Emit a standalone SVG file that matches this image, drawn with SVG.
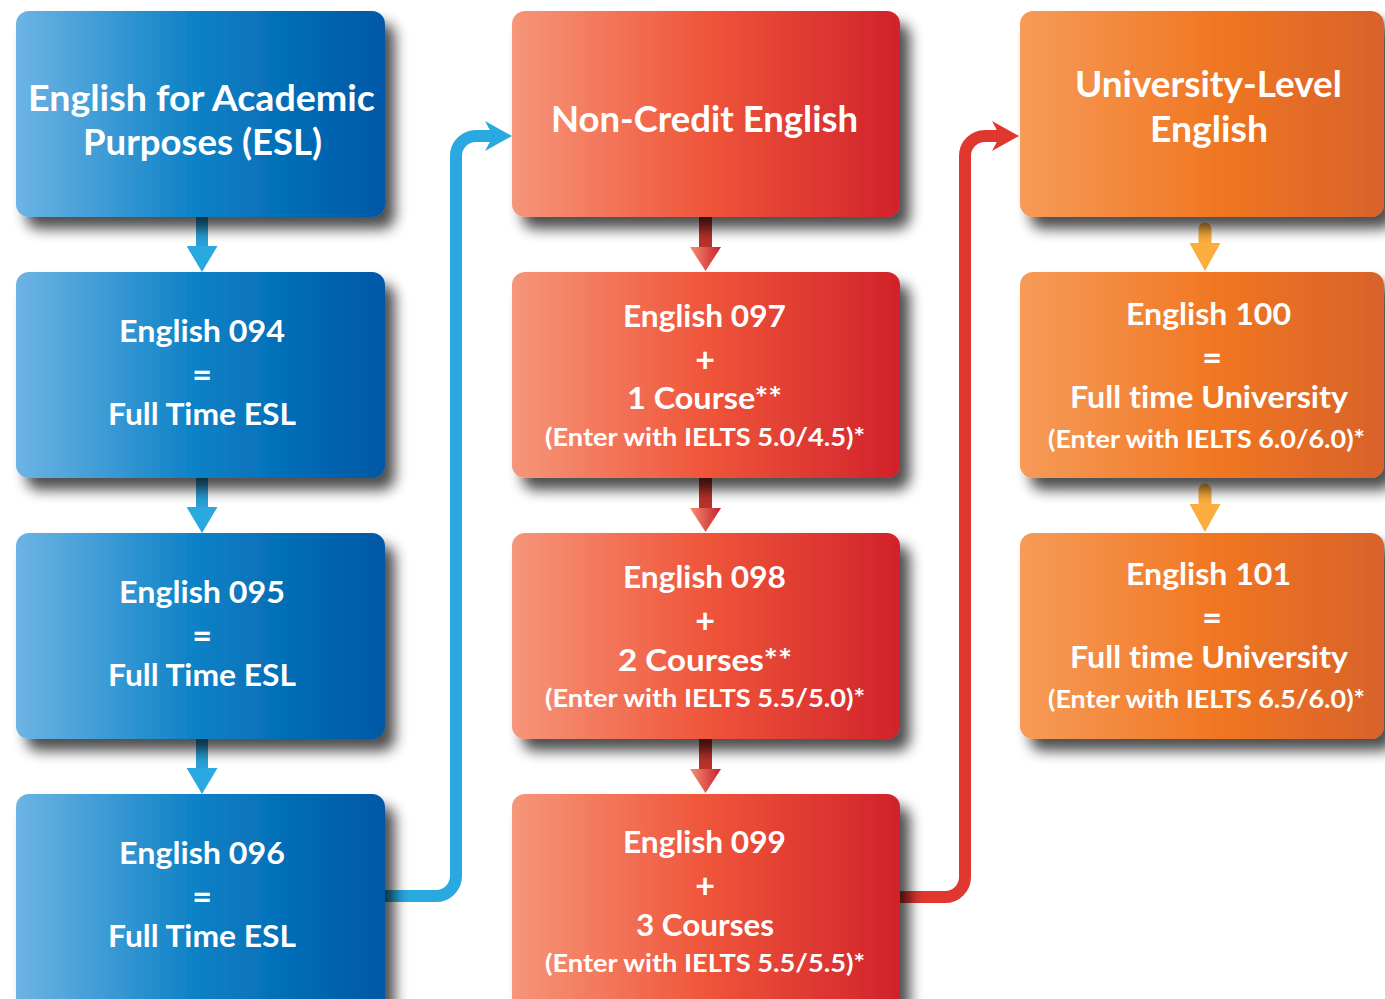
<svg xmlns="http://www.w3.org/2000/svg" width="1385" height="999" viewBox="0 0 1385 999">
<style>
.t{fill:#fff;font-family:Lato,"Open Sans","Liberation Sans",sans-serif;font-weight:700;text-anchor:middle;font-variant-ligatures:none}
.h{font-size:37px}
.m{font-size:31px}
.q{font-size:34px}
.s{font-size:25px}
.box{filter:url(#sh)}
.bl{fill:url(#gb)}
.rd{fill:url(#gr)}
.or{fill:url(#go)}
.cb{fill:none;stroke:#29a9e0;stroke-width:12}
.cr{fill:none;stroke:#e0372f;stroke-width:12}
.ab{fill:none;stroke:#2a9fd6;stroke-width:12;marker-end:url(#mb)}
.ar{fill:none;stroke:#b8312b;stroke-width:13;marker-end:url(#mr)}
.ao{fill:none;stroke:#fbae3e;stroke-width:13;stroke-linecap:round;marker-end:url(#mo)}
</style>
<defs>
<linearGradient id="gb" x1="0" y1="0" x2="1" y2="0">
<stop offset="0" stop-color="#6db4e4"/><stop offset="0.5" stop-color="#0a80c5"/><stop offset="1" stop-color="#0058a6"/>
</linearGradient>
<linearGradient id="gr" x1="0" y1="0" x2="1" y2="0">
<stop offset="0" stop-color="#f6967a"/><stop offset="0.5" stop-color="#ef553a"/><stop offset="1" stop-color="#d1222b"/>
</linearGradient>
<linearGradient id="go" x1="0" y1="0" x2="1" y2="0">
<stop offset="0" stop-color="#f69b58"/><stop offset="0.55" stop-color="#f07622"/><stop offset="1" stop-color="#d8622a"/>
</linearGradient>
<linearGradient id="gra" x1="0" y1="0" x2="0" y2="1">
<stop offset="0" stop-color="#c9202a"/><stop offset="1" stop-color="#f48e73"/>
</linearGradient>
<filter id="sh" x="-10%" y="-10%" width="130%" height="140%">
<feGaussianBlur in="SourceAlpha" stdDeviation="7"/>
<feOffset dx="10" dy="12"/>
<feComponentTransfer><feFuncA type="linear" slope="0.7"/></feComponentTransfer>
<feMerge><feMergeNode/><feMergeNode in="SourceGraphic"/></feMerge>
</filter>
<marker id="mcb" markerUnits="userSpaceOnUse" markerWidth="30" markerHeight="32" viewBox="0 0 30 32" refX="9" refY="16" orient="auto">
<path d="M0,1 L27,16 L0,31 L8,16 Z" fill="#29a9e0"/>
</marker>
<marker id="mcr" markerUnits="userSpaceOnUse" markerWidth="30" markerHeight="32" viewBox="0 0 30 32" refX="9" refY="16" orient="auto">
<path d="M0,1 L27,16 L0,31 L8,16 Z" fill="#e0372f"/>
</marker>
<marker id="mb" markerUnits="userSpaceOnUse" markerWidth="27" markerHeight="31" viewBox="0 0 27 31" refX="6" refY="15.5" orient="auto">
<path d="M0,0 L26,15.5 L0,31 Z" fill="#29a9e0"/>
</marker>
<marker id="mr" markerUnits="userSpaceOnUse" markerWidth="25" markerHeight="31" viewBox="0 0 25 31" refX="5" refY="15.5" orient="auto">
<path d="M0,0 L24,15.5 L0,31 Z" fill="url(#gra)"/>
</marker>
<marker id="mo" markerUnits="userSpaceOnUse" markerWidth="29" markerHeight="31" viewBox="0 0 29 31" refX="7" refY="15.5" orient="auto">
<path d="M0,0 L28,15.5 L0,31 Z" fill="#fbae3e"/>
</marker>
</defs>
<rect width="1385" height="999" fill="#fff"/>

<g id="connectors">
<path class="cb" d="M385,896 H436 A20,20 0 0 0 456,876 V156 A20,20 0 0 1 476,136 H494" marker-end="url(#mcb)"/>
<path class="cr" d="M900,897 H945 A20,20 0 0 0 965,877 V156 A20,20 0 0 1 985,136 H1001" marker-end="url(#mcr)"/>
<path class="ab" d="M202,217 V252"/>
<path class="ab" d="M202,478 V513"/>
<path class="ab" d="M202,739 V774"/>
<path class="ar" d="M705.5,217 V252"/>
<path class="ar" d="M705.5,478 V513"/>
<path class="ar" d="M705.5,739 V774"/>
<path class="ao" d="M1205,229 V250"/>
<path class="ao" d="M1205,490 V511"/>
</g>

<g id="eap">
<rect class="box bl" x="16" y="11" width="369" height="206" rx="13"/>
<text class="t h" x="201.5" y="111" textLength="347" lengthAdjust="spacingAndGlyphs">English for Academic</text>
<text class="t h" x="202.5" y="155" textLength="239" lengthAdjust="spacingAndGlyphs">Purposes (ESL)</text>
</g>
<g id="e094">
<rect class="box bl" x="16" y="272" width="369" height="206" rx="13"/>
<text class="t m" x="202" y="342" textLength="166" lengthAdjust="spacingAndGlyphs">English 094</text>
<text class="t q" x="202" y="387">=</text>
<text class="t m" x="202" y="425" textLength="188" lengthAdjust="spacingAndGlyphs">Full Time ESL</text>
</g>
<g id="e095">
<rect class="box bl" x="16" y="533" width="369" height="206" rx="13"/>
<text class="t m" x="202" y="603" textLength="166" lengthAdjust="spacingAndGlyphs">English 095</text>
<text class="t q" x="202" y="648">=</text>
<text class="t m" x="202" y="686" textLength="188" lengthAdjust="spacingAndGlyphs">Full Time ESL</text>
</g>
<g id="e096">
<rect class="box bl" x="16" y="794" width="369" height="220" rx="13"/>
<text class="t m" x="202" y="864" textLength="166" lengthAdjust="spacingAndGlyphs">English 096</text>
<text class="t q" x="202" y="909">=</text>
<text class="t m" x="202" y="947" textLength="188" lengthAdjust="spacingAndGlyphs">Full Time ESL</text>
</g>

<g id="noncredit">
<rect class="box rd" x="512" y="11" width="388" height="206" rx="13"/>
<text class="t h" x="704.5" y="132" textLength="307" lengthAdjust="spacingAndGlyphs">Non-Credit English</text>
</g>
<g id="e097">
<rect class="box rd" x="512" y="272" width="388" height="206" rx="13"/>
<text class="t m" x="704.5" y="327" textLength="163" lengthAdjust="spacingAndGlyphs">English 097</text>
<text class="t q" x="705" y="372">+</text>
<text class="t m" x="704.5" y="409" textLength="155" lengthAdjust="spacingAndGlyphs">1 Course**</text>
<text class="t s" x="705" y="446" textLength="320" lengthAdjust="spacingAndGlyphs">(Enter with IELTS 5.0/4.5)*</text>
</g>
<g id="e098">
<rect class="box rd" x="512" y="533" width="388" height="206" rx="13"/>
<text class="t m" x="704.5" y="588" textLength="163" lengthAdjust="spacingAndGlyphs">English 098</text>
<text class="t q" x="705" y="633">+</text>
<text class="t m" x="705" y="671" textLength="174" lengthAdjust="spacingAndGlyphs">2 Courses**</text>
<text class="t s" x="705" y="707" textLength="320" lengthAdjust="spacingAndGlyphs">(Enter with IELTS 5.5/5.0)*</text>
</g>
<g id="e099">
<rect class="box rd" x="512" y="794" width="388" height="220" rx="13"/>
<text class="t m" x="704.5" y="853" textLength="163" lengthAdjust="spacingAndGlyphs">English 099</text>
<text class="t q" x="705" y="898">+</text>
<text class="t m" x="705" y="936" textLength="138" lengthAdjust="spacingAndGlyphs">3 Courses</text>
<text class="t s" x="705" y="972" textLength="320" lengthAdjust="spacingAndGlyphs">(Enter with IELTS 5.5/5.5)*</text>
</g>

<g id="univ">
<rect class="box or" x="1020" y="11" width="364" height="206" rx="13"/>
<text class="t h" x="1208.5" y="97" textLength="267" lengthAdjust="spacingAndGlyphs">University-Level</text>
<text class="t h" x="1209" y="142" textLength="118" lengthAdjust="spacingAndGlyphs">English</text>
</g>
<g id="e100">
<rect class="box or" x="1020" y="272" width="364" height="206" rx="13"/>
<text class="t m" x="1208.5" y="325" textLength="165" lengthAdjust="spacingAndGlyphs">English 100</text>
<text class="t q" x="1212" y="370">=</text>
<text class="t m" x="1209" y="408" textLength="278" lengthAdjust="spacingAndGlyphs">Full time University</text>
<text class="t s" x="1206.5" y="448" textLength="317" lengthAdjust="spacingAndGlyphs">(Enter with IELTS 6.0/6.0)*</text>
</g>
<g id="e101">
<rect class="box or" x="1020" y="533" width="364" height="206" rx="13"/>
<text class="t m" x="1208.5" y="585" textLength="165" lengthAdjust="spacingAndGlyphs">English 101</text>
<text class="t q" x="1212" y="630">=</text>
<text class="t m" x="1209" y="668" textLength="278" lengthAdjust="spacingAndGlyphs">Full time University</text>
<text class="t s" x="1206.5" y="708" textLength="317" lengthAdjust="spacingAndGlyphs">(Enter with IELTS 6.5/6.0)*</text>
</g>
</svg>
